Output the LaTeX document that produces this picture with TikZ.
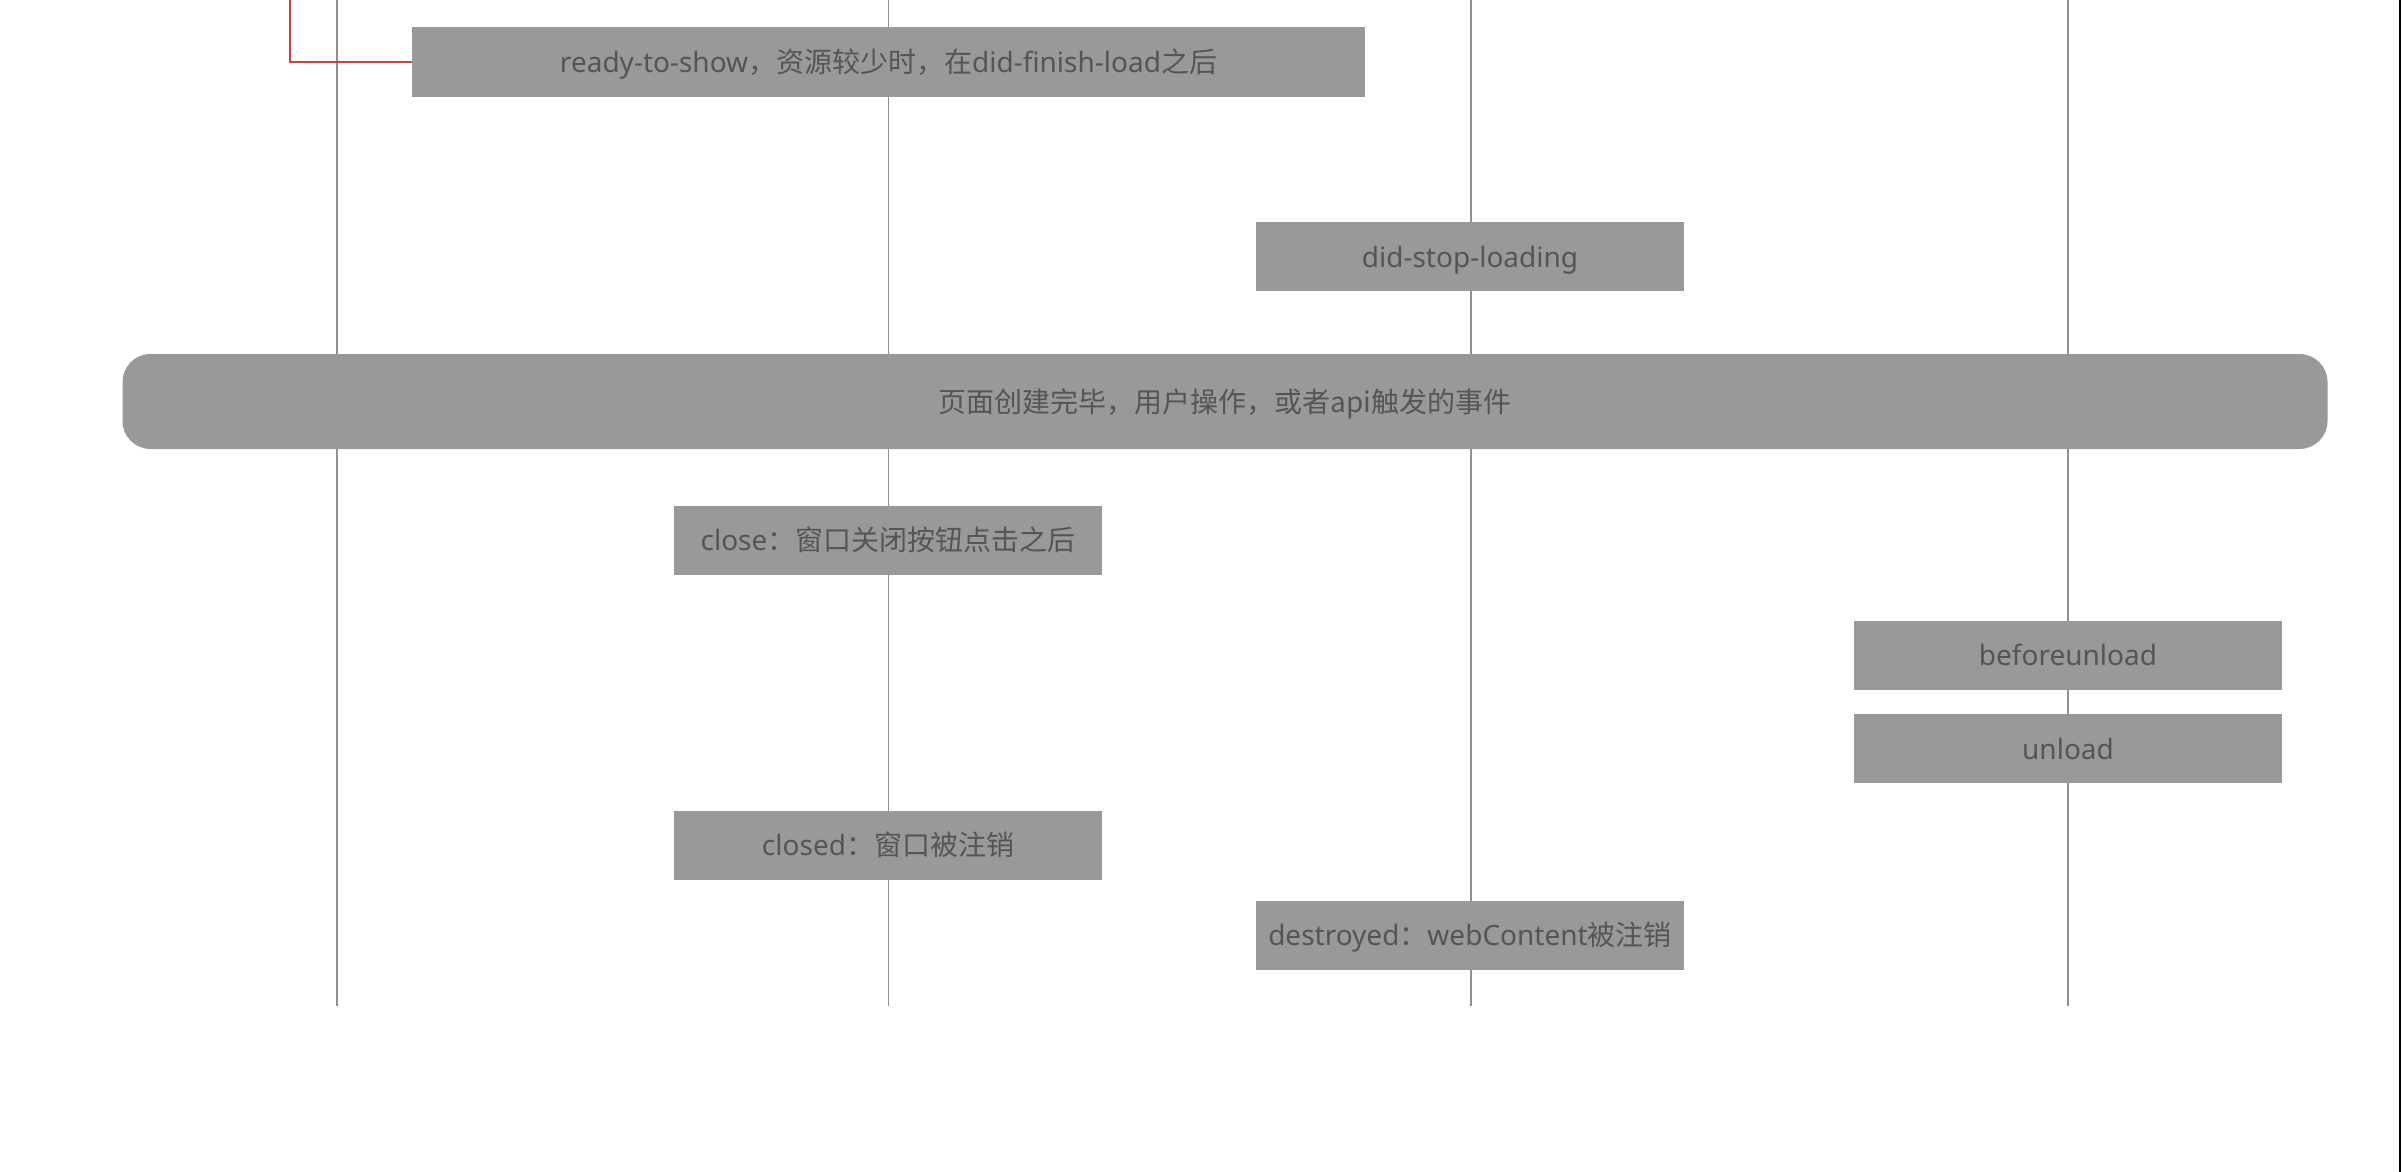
\documentclass[tikz,border=0pt]{standalone}
\usepackage{fontspec}
\setmainfont{Noto Sans}
\newfontfamily\cjk{Noto Sans CJK SC}
\definecolor{boxgray}{HTML}{999999}
\definecolor{txtgray}{HTML}{555555}
\definecolor{lanegray}{HTML}{909090}
\definecolor{linkred}{HTML}{E2382E}
\begin{document}
\begin{tikzpicture}[x=1pt,y=-1pt,
  lane/.style={draw=lanegray,line width=1.8pt},
  evt/.style={fill=boxgray,text=txtgray,minimum height=69pt,minimum width=428pt,
              inner sep=0pt,text height=22pt,text depth=1pt,
              font=\fontsize{28}{32}\selectfont},
  phase/.style={evt,rounded corners=28pt,minimum height=95pt,minimum width=2205pt},
  link/.style={draw=linkred,line width=2pt}]
  \useasboundingbox[fill=white] (0,0) rectangle (2402,1172);

  % lifelines
  \foreach \name/\x in {la/337,lb/888.5,lc/1471,ld/2068}{
    \coordinate (\name-top) at (\x,0);
    \coordinate (\name-bot) at (\x,1006);
    \draw[lane] (\name-top) -- (\name-bot);
  }

  % page edge
  \coordinate (edge-top) at (2400,0);
  \coordinate (edge-bot) at (2400,1172);
  \draw[black,line width=2.5pt] (edge-top) -- (edge-bot);

  % events
  \node[evt,minimum width=953pt] (ready) at (888.5,62)
    {ready-to-show{\cjk，资源较少时，在}did-finish-load{\cjk 之后}};
  \node[evt] (stop) at (1470,256.5) {did-stop-loading};
  \node[phase] (page) at (1225,401.5) {\cjk 页面创建完毕，用户操作，或者api触发的事件};
  \node[evt] (close) at (888,540) {close{\cjk ：窗口关闭按钮点击之后}};
  \node[evt] (before) at (2068,655) {beforeunload};
  \node[evt] (unload) at (2068,748.5) {unload};
  \node[evt] (closed) at (888,845) {closed{\cjk ：窗口被注销}};
  \node[evt] (destroyed) at (1470,935) {destroyed{\cjk ：}webContent{\cjk 被注销}};

  % incoming link
  \coordinate (linktop) at (290,0);
  \draw[link] (linktop) |- (ready.west);
\end{tikzpicture}
\end{document}
